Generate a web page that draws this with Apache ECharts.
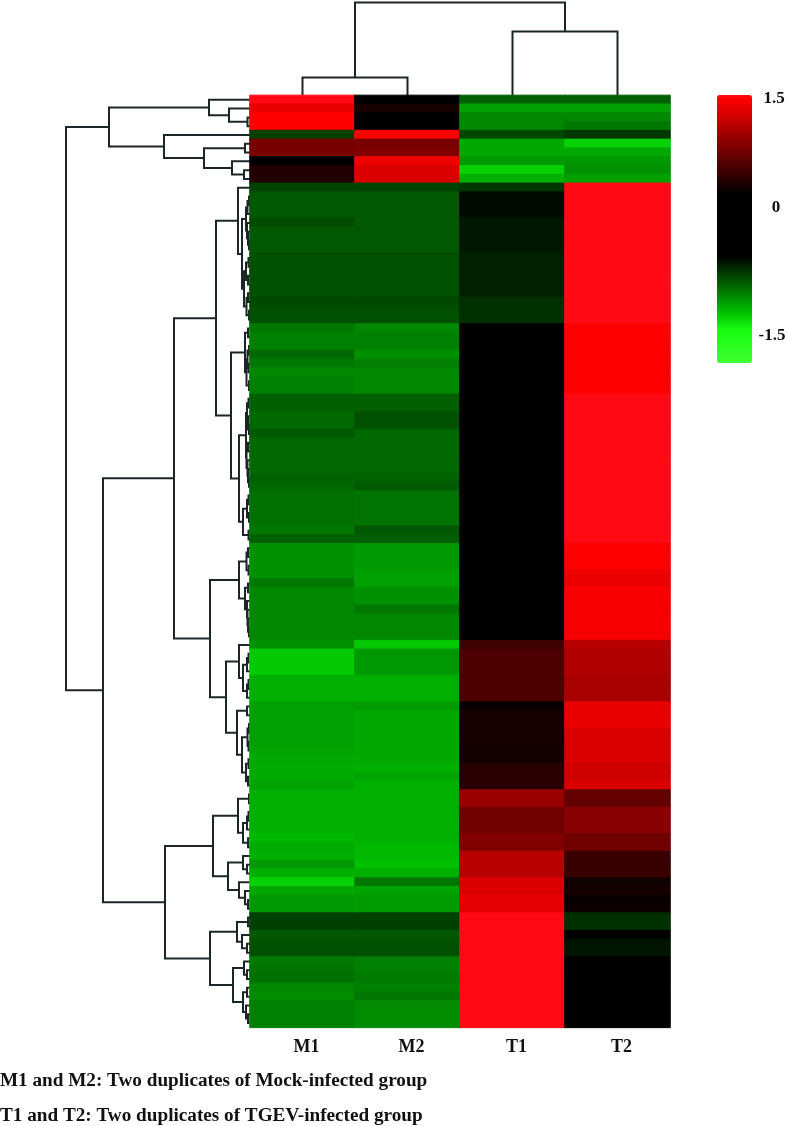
<!DOCTYPE html>
<html>
<head>
<meta charset="utf-8">
<style>html,body{margin:0;padding:0;background:#fff}#c{width:787px;height:1126px}</style>
<script src="https://cdn.jsdelivr.net/npm/echarts@6/dist/echarts.min.js"></script>
</head>
<body>
<div id="c"></div>
<script>
// Column labels and legend ticks
const columns = ['M1', 'M2', 'T1', 'T2'];
const legendTicks = ['1.5', '0', '-1.5'];
const notes = ['M1 and M2: Two duplicates of Mock-infected group', 'T1 and T2: Two duplicates of TGEV-infected group'];

// Scaled expression, one value per row, top to bottom
const m1 = [1.55,1.39,1.5,1.5,-.73,.86,.86,0,.44,.44,-.74,
 -.82,-.82,-.82,-.77,-.82,-.82,-.82,-.79,-.79,-.79,-.79,-.79,-.76,-.79,-.79,
 -.94,-.97,-.97,-.88,-.94,-1.0,-.97,-.97,-.85,-.85,-.88,-.88,-.82,-.88,-.88,-.88,-.88,-.85,-.88,
 -.91,-.91,-.91,-.91,-.94,-.85,-1.03,-1.03,-1.03,-1.03,-.94,-1.0,-1.0,-1.0,-1.0,-1.0,-1.0,
 -1.03,-1.24,-1.24,-1.24,-1.15,-1.15,-1.15,-1.09,-1.09,-1.09,-1.09,-1.09,-1.10,-1.12,-1.13,-1.13,-1.10,
 -1.15,-1.15,-1.15,-1.15,-1.15,-1.18,-1.13,-1.15,-1.06,-1.15,-1.27,-1.12,-1.06,-1.06,
 -.73,-.73,-.82,-.79,-.79,-.95,-.92,-.91,-1.0,-1.01,-.97,-.97,-.97];
const m2 = [0,.40,0,0,1.5,.86,.90,1.43,1.33,1.33,-.74,
 -.82,-.82,-.82,-.82,-.82,-.82,-.82,-.79,-.79,-.79,-.79,-.79,-.76,-.79,-.79,
 -1.0,-.97,-.97,-1.03,-.97,-1.0,-1.0,-1.0,-.85,-.85,-.79,-.79,-.88,-.88,-.88,-.88,-.88,-.86,-.83,
 -.92,-.92,-.92,-.92,-.82,-.85,-1.06,-1.06,-1.06,-1.09,-1.09,-1.03,-1.03,-.94,-1.0,-1.0,-1.0,
 -1.24,-1.06,-1.06,-1.06,-1.15,-1.15,-1.15,-1.07,-1.12,-1.12,-1.12,-1.12,-1.12,-1.12,-1.15,-1.10,-1.15,
 -1.15,-1.15,-1.15,-1.15,-1.15,-1.15,-1.18,-1.18,-1.21,-1.15,-.94,-1.10,-1.07,-1.07,
 -.73,-.73,-.82,-.79,-.79,-.97,-.97,-.95,-.97,-.94,-1.01,-1.01,-1.01];
const t1 = [-.85,-1.09,-1.0,-1.0,-.76,-1.12,-1.12,-1.06,-1.27,-1.15,-.70,
 -.53,-.53,-.53,-.58,-.58,-.58,-.58,-.61,-.61,-.61,-.61,-.61,-.67,-.67,-.67,
 0,0,0,0,0,0,0,0,0,0,0,0,0,0,0,0,0,0,0,0,0,0,0,0,0,0,0,0,0,0,0,0,0,0,0,0,
 .59,.65,.65,.65,.65,.65,.65,.33,.40,.40,.40,.40,.39,.39,.48,.48,.48,
 1.01,1.01,.82,.82,.82,.90,.90,1.16,1.16,1.16,1.33,1.33,1.37,1.37,
 1.55,1.55,1.55,1.55,1.55,1.55,1.55,1.55,1.55,1.55,1.55,1.55,1.55];
const t2 = [-.85,-1.09,-1.0,-.94,-.70,-1.27,-1.12,-1.06,-1.03,-1.09,
 1.55,1.55,1.55,1.55,1.55,1.55,1.55,1.55,1.55,1.55,1.55,1.55,1.55,1.55,1.55,1.55,
 1.5,1.5,1.5,1.5,1.5,1.5,1.5,1.5,
 1.55,1.55,1.55,1.55,1.55,1.55,1.55,1.55,1.55,1.55,1.55,1.55,1.55,1.55,1.55,1.55,1.55,
 1.5,1.5,1.5,1.42,1.42,1.47,1.47,1.47,1.47,1.47,1.47,
 1.16,1.13,1.13,1.13,1.09,1.09,1.09,1.39,1.39,1.39,1.33,1.33,1.33,1.33,1.28,1.28,1.33,
 .76,.76,.94,.94,.94,.82,.82,.56,.56,.56,.37,.40,.33,.35,
 -.67,-.67,0,-.57,-.57,0,0,0,0,0,0,0,0];

// Clustering trees: [merge height, child, child]; a bare number is a leaf index
const columnTree = [93, [18, 0, 1], [64, 2, 3]];
const rowTreeTop = [141,
 [41, 0, [21, 1, [2.5, 2, 3]]],
 [86, 4, [46, [5, 5, 6], [18, 7, [6, 8, 9]]]]];
const rowTreeA = [34,
 [12, 10, [8,
  [4, [2.5, [1, 11, 12], 13], [3, 14, [2, 15, [1, 16, 17]]]],
  [6, [4, [1.5, 18, 19], [2, 20, 21]], [3.5, [2, 22, 23], [1, 24, 25]]]]],
 [19,
  [5, [2, 26, 27], [3.5, [2.5, [1, 28, 29], [1.5, 30, 31]], [1, 32, 33]]],
  [11,
   [4, [3, [1.5, 34, 35], [2, 36, [1, 37, 38]]], [3.5, [2, 39, 40], [2.5, 41, [2, 42, [1, 43, 44]]]]],
   [7, [3, [1.5, 45, 46], [1, 47, 48]], [1.5, 49, 50]]]]];
const rowTreeB = [40,
 [11, [3.5, [2, 51, 52], [1.5, 53, 54]], [5, [2, 55, 56], [3, 57, [2.5, 58, [2, 59, [1, 60, 61]]]]]],
 [24,
  [11, 62, [7, [3, [1.5, 63, 64], 65], [3, [1.5, 66, 67], 68]]],
  [13, [3, 69, 70], [8, [2.5, [1, 71, 72], [1.5, 73, 74]], [4, [1.5, 75, 76], [2, 77, 78]]]]]];
const rowTreeC = [85,
 [37,
  [12, [1, 79, 80], [7, [3, [1.5, 81, 82], 83], [2, 84, 85]]],
  [22, [7, 86, [3, 87, 88]], [11, 89, [5, 90, [2, 91, 92]]]]],
 [40,
  [13, [2, 93, 94], [8, 95, [3, 96, 97]]],
  [17, [6, 98, [3, 99, 100]], [7, [3, 101, 102], [4, 103, [2, 104, 105]]]]]];
const rowTree = [184, rowTreeTop, [147, [76, rowTreeA, rowTreeB], rowTreeC]];

// Colour scale
const vMin = -1.85, vMax = 1.55;
function colourOf(v) {
  let r = 0, g = 0, b = 0;
  if (v >= 1.5) { const t = (v - 1.5) / 0.05; r = 255; g = 10 * t; b = 20 * t; }
  else if (v >= 0.29) { r = (v - 0.29) / 1.21 * 255; }
  else if (v <= -0.49) {
    g = Math.min(255, (-0.49 - v) / 0.00374);
    if (v < -1.2) { r = (-1.2 - v) / 0.65 * 64; b = r * 0.75; }
  }
  return 'rgb(' + Math.round(r) + ',' + Math.round(g) + ',' + Math.round(b) + ')';
}
const ramp = [];
for (let i = 0; i <= 340; i++) ramp.push(colourOf(vMin + i * 0.01));

const cells = [];
[m1, m2, t1, t2].forEach((col, c) => col.forEach((v, r) => cells.push({
  value: [c, r, v],
  itemStyle: { borderColor: colourOf(v), borderWidth: 1 }
})));

// Flatten a tree into U-shaped links, in [height, position] data units
function links(node, out) {
  if (typeof node === 'number') return { p: node + 0.5, h: 0 };
  const a = links(node[1], out), b = links(node[2], out), h = node[0];
  out.push([a.h, a.p, h, b.p, b.h]);
  return { p: (a.p + b.p) / 2, h };
}
const rowLinks = []; links(rowTree, rowLinks);
const colLinks = []; links(columnTree, colLinks);

const lineStyle = { stroke: '#1b2626', lineWidth: 2, fill: null };
function rowRender(params, api) {
  const pts = [[api.value(0), api.value(1)], [api.value(2), api.value(1)], [api.value(2), api.value(3)], [api.value(4), api.value(3)]];
  return { type: 'polyline', shape: { points: pts.map(p => api.coord(p)) }, style: lineStyle };
}
function colRender(params, api) {
  const pts = [[api.value(1), api.value(0)], [api.value(1), api.value(2)], [api.value(3), api.value(2)], [api.value(3), api.value(4)]];
  return { type: 'polyline', shape: { points: pts.map(p => api.coord(p)) }, style: lineStyle };
}

const serif = '"Liberation Serif", serif';
const hmLeft = 250, hmTop = 95.4, hmW = 420, hmH = 932;
const textStyle = (text, x, y, size, align) => ({
  type: 'text', x, y, silent: true,
  style: { text, fill: '#111', font: 'bold ' + size + 'px ' + serif, textAlign: align || 'left', textVerticalAlign: 'middle' }
});

const chart = echarts.init(document.getElementById('c'), null, { renderer: 'canvas' });
chart.setOption({
  backgroundColor: '#fff',
  animation: false,
  grid: [
    { left: hmLeft, top: hmTop, width: hmW, height: hmH },
    { left: hmLeft - 190, top: hmTop, width: 190, height: hmH },
    { left: hmLeft, top: 0, width: hmW, height: hmTop }
  ],
  xAxis: [
    { gridIndex: 0, type: 'category', data: columns, position: 'bottom',
      axisLine: { show: false }, axisTick: { show: false }, splitLine: { show: false },
      axisLabel: { margin: 11, fontFamily: serif, fontWeight: 'bold', fontSize: 18, color: '#111', padding: [0, 0, 0, 8] } },
    { gridIndex: 1, type: 'value', min: 0, max: 190, inverse: true, show: false },
    { gridIndex: 2, type: 'value', min: 0, max: 4, show: false }
  ],
  yAxis: [
    { gridIndex: 0, type: 'category', inverse: true, data: m1.map((_, i) => i), show: false },
    { gridIndex: 1, type: 'value', min: 0, max: 106, inverse: true, show: false },
    { gridIndex: 2, type: 'value', min: 0, max: hmTop, show: false }
  ],
  visualMap: {
    type: 'continuous', seriesIndex: 0, dimension: 2, min: vMin, max: vMax, calculable: false, hoverLink: false,
    left: 717, top: 95, itemWidth: 35, itemHeight: 268, padding: 0, text: null, showLabel: false,
    inRange: { color: ramp }
  },
  series: [
    { type: 'heatmap', xAxisIndex: 0, yAxisIndex: 0, data: cells, z: 3, progressive: 0, silent: true,
      emphasis: { disabled: true } },
    { type: 'custom', xAxisIndex: 1, yAxisIndex: 1, data: rowLinks, renderItem: rowRender, clip: false, z: 2, silent: true },
    { type: 'custom', xAxisIndex: 2, yAxisIndex: 2, data: colLinks, renderItem: colRender, clip: false, z: 2, silent: true }
  ],
  graphic: [
    textStyle(legendTicks[0], 774, 99, 17, 'center'),
    textStyle(legendTicks[1], 776, 208, 17, 'center'),
    textStyle(legendTicks[2], 772, 336, 17, 'center'),
    textStyle(notes[0], 0, 1081, 19.2),
    textStyle(notes[1], 0, 1116, 19.2)
  ]
});
</script>
</body>
</html>
